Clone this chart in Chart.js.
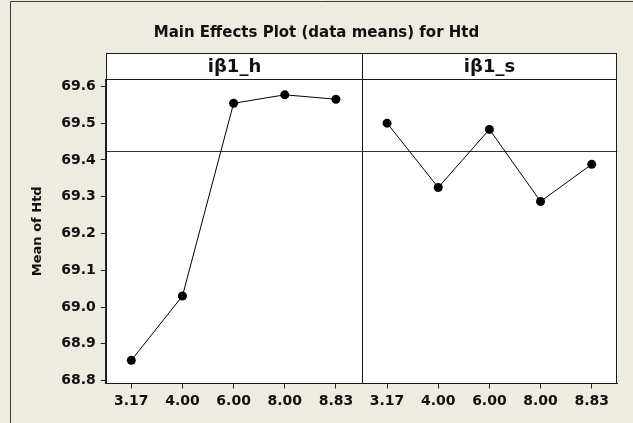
<!DOCTYPE html>
<html>
<head>
<meta charset="utf-8">
<script src="https://cdn.jsdelivr.net/npm/chart.js@4/dist/chart.umd.min.js"></script>
<style>
  html, body { margin: 0; padding: 0; background: #EEEBE1; }
  #wrap { width: 633px; height: 423px; }
</style>
</head>
<body>
<div id="wrap"><canvas id="c" width="633" height="423"></canvas></div>
<script>
// Factor levels (shared by both factors) and panel names
const levels = ['3.17', '4.00', '6.00', '8.00', '8.83'];
const factors = ['iβ1_h', 'iβ1_s'];

// Mean of Htd at each level
const hMeans = [68.855, 69.03, 69.554, 69.577, 69.565];
const sMeans = [69.50, 69.325, 69.483, 69.287, 69.388];

// Overall mean (reference line)
const grandMean = 69.425;

// Y axis
const yTicks = [68.8, 68.9, 69.0, 69.1, 69.2, 69.3, 69.4, 69.5, 69.6];
const yMin = 68.792;
const yMax = 69.62;

const FONT = 'DejaVu Sans';
const INK = '#111';

const nulls = levels.map(() => null);
const labels = levels.concat(levels);

const panelPlugin = {
  id: 'panels',
  beforeDraw(chart) {
    const { ctx, chartArea: a } = chart;
    ctx.save();
    ctx.fillStyle = '#EEEBE1';
    ctx.fillRect(0, 0, chart.width, chart.height);
    // outer frame
    ctx.strokeStyle = '#3a3a3a';
    ctx.lineWidth = 1;
    ctx.beginPath();
    ctx.moveTo(10.5, chart.height);
    ctx.lineTo(10.5, 1.5);
    ctx.lineTo(chart.width, 1.5);
    ctx.stroke();
    // plotting region
    ctx.fillStyle = '#ffffff';
    ctx.fillRect(a.left, a.top, a.right - a.left, a.bottom - a.top);
    ctx.restore();
  },
  beforeDatasetsDraw(chart) {
    const { ctx, chartArea: a, scales: { y } } = chart;
    const ym = Math.round(y.getPixelForValue(grandMean)) + 0.5;
    ctx.save();
    ctx.strokeStyle = '#333';
    ctx.lineWidth = 1;
    ctx.beginPath();
    ctx.moveTo(a.left, ym);
    ctx.lineTo(a.right, ym);
    ctx.stroke();
    ctx.restore();
  },
  afterDraw(chart) {
    const { ctx, chartArea: a, scales: { x } } = chart;
    const mid = Math.round((x.getPixelForValue(4) + x.getPixelForValue(5)) / 2) + 0.5;
    const L = Math.round(a.left) + 0.5, R = Math.round(a.right) - 0.5;
    const T = Math.round(a.top) + 0.5, B = Math.round(a.bottom) - 0.5;
    const hTop = T - 26;
    ctx.save();
    ctx.strokeStyle = '#1a1a1a';
    ctx.lineWidth = 1;
    // panel frames
    ctx.strokeRect(L, T, R - L, B - T);
    ctx.beginPath();
    ctx.moveTo(mid, T);
    ctx.lineTo(mid, B);
    ctx.stroke();
    // strip headers
    const edges = [[L, mid], [mid, R]];
    edges.forEach(([x0, x1], i) => {
      ctx.fillStyle = '#ffffff';
      ctx.fillRect(x0, hTop, x1 - x0, T - hTop);
      ctx.strokeRect(x0, hTop, x1 - x0, T - hTop);
      ctx.fillStyle = INK;
      ctx.font = 'bold 18px "' + FONT + '"';
      ctx.textAlign = 'center';
      ctx.textBaseline = 'middle';
      ctx.fillText(factors[i], (x0 + x1) / 2, (hTop + T) / 2 + 0.5);
    });
    ctx.restore();
  }
};

new Chart(document.getElementById('c'), {
  type: 'line',
  data: {
    labels: labels,
    datasets: [
      { data: hMeans.concat(nulls) },
      { data: nulls.concat(sMeans) }
    ]
  },
  options: {
    responsive: false,
    animation: false,
    devicePixelRatio: 1,
    events: [],
    spanGaps: false,
    layout: { padding: { left: 15.7, right: 15.7, top: 0, bottom: 0 } },
    elements: {
      line: { borderColor: '#000', borderWidth: 1, tension: 0 },
      point: { radius: 4.5, backgroundColor: '#000', borderWidth: 0 }
    },
    plugins: {
      legend: { display: false },
      tooltip: { enabled: false },
      title: {
        display: true,
        text: 'Main Effects Plot (data means) for Htd',
        color: INK,
        font: { family: FONT, size: 15, weight: 'bold', lineHeight: 1.2 },
        padding: { top: 24, bottom: 37 }
      }
    },
    scales: {
      x: {
        type: 'category',
        offset: true,
        grid: { display: true, drawOnChartArea: false, drawTicks: true, tickLength: 5, color: '#222', offset: false },
        border: { display: true, color: '#222' },
        ticks: { color: INK, font: { family: FONT, size: 14, weight: 'bold' }, padding: 4, maxRotation: 0, autoSkip: false },
        afterFit(scale) { scale.height = 39.5; }
      },
      y: {
        min: yMin,
        max: yMax,
        afterBuildTicks(scale) { scale.ticks = yTicks.map(v => ({ value: v })); },
        grid: { display: true, drawOnChartArea: false, drawTicks: true, tickLength: 5, color: '#222' },
        border: { display: true, color: '#222' },
        ticks: {
          color: INK,
          font: { family: FONT, size: 14, weight: 'bold' },
          padding: 5,
          callback: (v) => Number(v).toFixed(1)
        },
        title: {
          display: true,
          text: 'Mean of Htd',
          color: INK,
          font: { family: FONT, size: 13, weight: 'bold' },
          padding: { top: 14.5, bottom: 0 }
        },
        afterFit(scale) { scale.width = 90; }
      }
    }
  },
  plugins: [panelPlugin]
});
</script>
</body>
</html>
